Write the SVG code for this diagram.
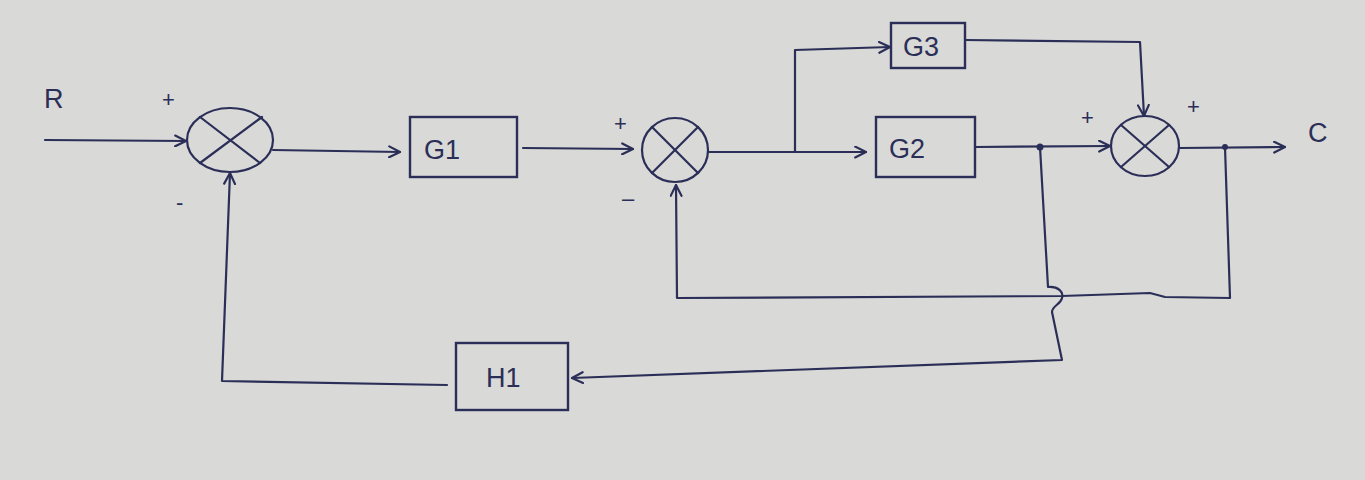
<svg xmlns="http://www.w3.org/2000/svg" width="1365" height="480" viewBox="0 0 1365 480">
<style>
.ink{stroke:#2b2f58;stroke-width:2.2;fill:none;stroke-linecap:round;stroke-linejoin:round}
.box{stroke:#2b2f58;stroke-width:2.4;fill:none}
.lbl{font-family:"Liberation Sans",sans-serif;fill:#2b2f58;font-size:27px}
.sgn{font-family:"Liberation Sans",sans-serif;fill:#2b2f58;font-size:22px}
</style>
<defs>
<marker id="arr" viewBox="0 0 12 12" refX="11" refY="6" markerWidth="13" markerHeight="13" markerUnits="userSpaceOnUse" orient="auto">
<path d="M1,1 L11,6 L1,11" fill="none" stroke="#2b2f58" stroke-width="2" stroke-linecap="round"/>
</marker>
</defs>
<rect width="1365" height="480" fill="#d9d9d7"/>
<g id="labels">
<text class="lbl" x="44" y="108">R</text>
<text class="lbl" x="1308" y="142">C</text>
<text class="sgn" x="162" y="107">+</text>
<text class="sgn" x="176" y="210">-</text>
<text class="sgn" x="614" y="131">+</text>
<text class="sgn" x="622" y="206">–</text>
<text class="sgn" x="1081" y="125">+</text>
<text class="sgn" x="1187" y="114">+</text>
</g>
<g id="sum1">
<ellipse class="ink" cx="230" cy="140" rx="43" ry="32"/>
<line class="ink" x1="200" y1="117" x2="260" y2="163"/>
<line class="ink" x1="200" y1="163" x2="262" y2="117"/>
</g>
<g id="G1">
<rect class="box" x="410" y="117" width="107" height="60"/>
<text class="lbl" x="424" y="159">G1</text>
</g>
<g id="sum2">
<ellipse class="ink" cx="675" cy="150" rx="33" ry="32"/>
<line class="ink" x1="652" y1="127" x2="698" y2="173"/>
<line class="ink" x1="652" y1="173" x2="698" y2="127"/>
</g>
<g id="G3">
<rect class="box" x="891" y="23" width="74" height="45"/>
<text class="lbl" x="903" y="56">G3</text>
</g>
<g id="G2">
<rect class="box" x="876" y="117" width="99" height="60"/>
<text class="lbl" x="889" y="158">G2</text>
</g>
<g id="sum3">
<ellipse class="ink" cx="1145" cy="146" rx="34" ry="30"/>
<line class="ink" x1="1121" y1="125" x2="1169" y2="167"/>
<line class="ink" x1="1121" y1="167" x2="1169" y2="125"/>
</g>
<g id="H1">
<rect class="box" x="456" y="343" width="112" height="67"/>
<text class="lbl" x="486" y="387">H1</text>
</g>
<g id="connectors">
<path class="ink" d="M45,140 L186,141" marker-end="url(#arr)"/>
<path class="ink" d="M273,150 L400,152" marker-end="url(#arr)"/>
<path class="ink" d="M523,148 L633,149" marker-end="url(#arr)"/>
<path class="ink" d="M708,152 L866,152" marker-end="url(#arr)"/>
<path class="ink" d="M795,152 L795,50 L890,47" marker-end="url(#arr)"/>
<path class="ink" d="M965,40 L1140,42 L1144,116" marker-end="url(#arr)"/>
<path class="ink" d="M975,147 L1110,146" marker-end="url(#arr)"/>
<path class="ink" d="M1180,148 L1285,147" marker-end="url(#arr)"/>
<circle cx="1040" cy="147" r="3.5" fill="#2b2f58"/>
<circle cx="1225" cy="147" r="3" fill="#2b2f58"/>
<path class="ink" d="M1225,147 L1230,298 L1165,297 L1150,293 L1062,296 L677,298 L676,185" marker-end="url(#arr)"/>
<path class="ink" d="M1040,147 L1048,287 C1058,286 1064,292 1062,298 C1061,304 1052,306 1052,312 L1062,360 L572,378" marker-end="url(#arr)"/>
<path class="ink" d="M447,385 L222,381 L230,173" marker-end="url(#arr)"/>
</g>
</svg>
